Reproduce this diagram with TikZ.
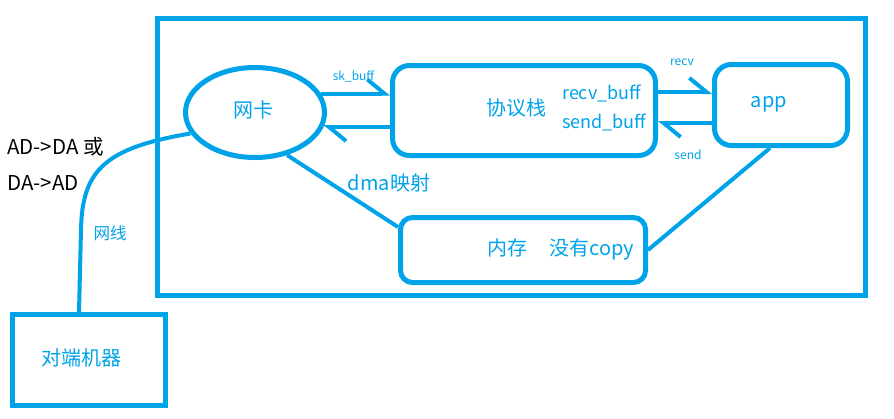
\documentclass[tikz,border=0pt]{standalone}
\usepackage{fontspec}
\setmainfont{Noto Sans CJK SC}
\usetikzlibrary{shapes.geometric,arrows.meta}
\definecolor{pblue}{HTML}{00A2E8}
\begin{document}
\begin{tikzpicture}[x=1pt,y=-1pt,
  frm/.style={draw=pblue,line width=5pt,inner sep=0pt},
  box/.style={frm,rounded corners=17pt},
  lbl/.style={text=pblue,inner sep=0pt,font=\fontsize{18}{18}\selectfont},
  big/.style={text=pblue,inner sep=0pt,font=\fontsize{20}{20}\selectfont},
  small/.style={text=pblue,inner sep=0pt,font=\fontsize{12}{12}\selectfont},
  blk/.style={text=black,inner sep=0pt,anchor=west,font=\fontsize{20.5}{20.5}\selectfont},
  conn/.style={draw=pblue,line width=4pt},
  arr/.style={conn,-{Straight Barb[harpoon,length=17pt,width=28pt]}},
]
\useasboundingbox (0,0) rectangle (894,418);
% outer frame
\node[frm,minimum width=708pt,minimum height=277pt] (frame) at (511.5,157) {};
% nodes
\node[frm,ellipse,minimum width=139pt,minimum height=90pt] (ell) at (255,112.5) {};
\node[box,minimum width=263pt,minimum height=90pt] (proto) at (524,110.5) {};
\node[box,minimum width=133pt,minimum height=81pt] (app) at (781,105) {};
\node[frm,rounded corners=12pt,minimum width=245pt,minimum height=65pt] (mem) at (523,250) {};
\node[frm,minimum width=153pt,minimum height=91pt] (peer) at (89,360) {};
% texts
\node[big] (t1) at (253,110) {网卡};
\node[big] (t2) at (516,108) {协议栈};
\node[lbl,anchor=west] (t3) at (562,93) {recv\_buff};
\node[lbl,anchor=west] (t4) at (562,122) {send\_buff};
\node[big] (t5) at (769,104) {app};
\node[big] (t6) at (561,249) {内存\hspace{22pt}没有copy};
\node[big] (t7) at (81,358) {对端机器};
\node[big] (t8) at (389,183) {dma映射};
\node[lbl,font=\fontsize{16.5}{16.5}\selectfont] (t9) at (110,233) {网线};
\node[small] (t10) at (353.5,76) {sk\_buff};
\node[small] (t11) at (682,62) {recv};
\node[small] (t12) at (688,155) {send};
\node[blk] (t13) at (7,147) {AD->DA 或};
\node[blk] (t14) at (7,183) {DA->AD};
% connectors
\draw[arr] (ell.16) -- (proto.west |- ell.16);
\draw[arr] (proto.west |- ell.-12) -- (ell.-12);
\draw[arr] (proto.east |- 0,92) -- (app.west |- 0,92);
\draw[arr] (app.west |- 0,123) -- (proto.east |- 0,123);
\draw[conn] (ell.-53) -- ([yshift=-12pt]mem.north west);
\draw[conn] ([xshift=-11pt]app.south) -- (mem.east);
\coordinate (bend) at (81,230);
\draw[conn] (ell.-162) .. controls (105,148) and (82,170) .. (bend) -- ([xshift=-10pt]peer.north);
\end{tikzpicture}
\end{document}
